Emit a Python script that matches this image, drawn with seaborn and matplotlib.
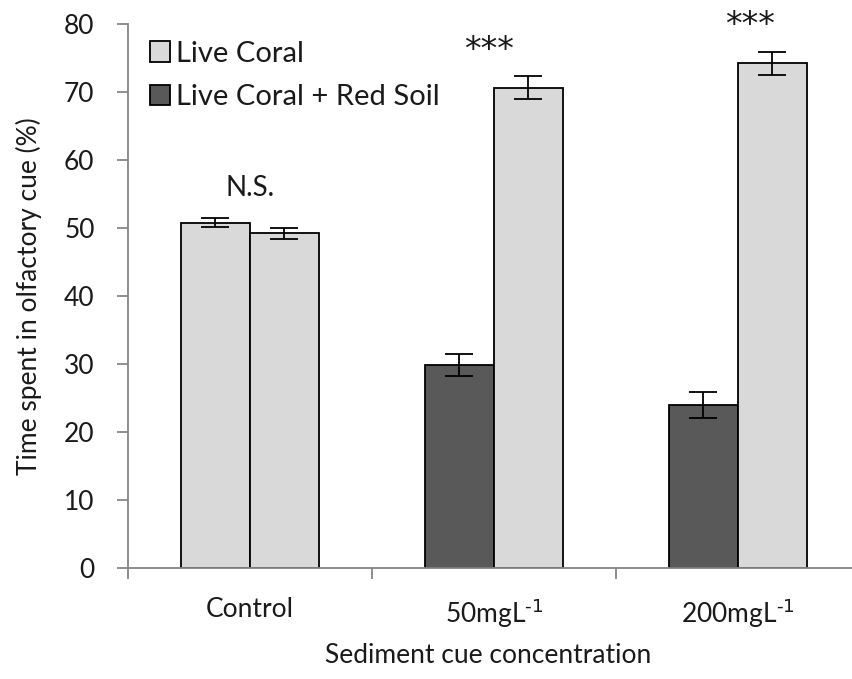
import pandas as pd
import matplotlib
matplotlib.use("Agg")
import matplotlib.pyplot as plt
import seaborn as sns
from matplotlib.patches import Patch

# ----- data -------------------------------------------------------
groups = ["Control", "50mgL$^{\\text{-1}}$", "200mgL$^{\\text{-1}}$"]
left_cue = ["Live Coral", "Live Coral + Red Soil", "Live Coral + Red Soil"]
left_val = [50.8, 29.9, 24.0]
left_err = [0.7, 1.6, 1.9]
right_cue = ["Live Coral", "Live Coral", "Live Coral"]
right_val = [49.2, 70.6, 74.2]
right_err = [0.8, 1.7, 1.7]
sig_labels = ["N.S.", "***", "***"]

cue_colors = {"Live Coral": "#d9d9d9", "Live Coral + Red Soil": "#595959"}

df = pd.DataFrame({
    "group": groups * 2,
    "side": ["left"] * 3 + ["right"] * 3,
    "cue": left_cue + right_cue,
    "value": left_val + right_val,
    "err": left_err + right_err,
})

sns.set_style("white")
plt.rcParams["font.family"] = ["Lato", "DejaVu Sans"]
plt.rcParams["mathtext.default"] = "regular"
txt = "#1a1a1a"
axis_col = "#868686"

fig = plt.figure(figsize=(8.53, 6.79), dpi=100)
ax = fig.add_axes([0.150, 0.163, 0.858, 0.802])

sns.barplot(data=df, x="group", y="value", hue="side", order=groups,
            hue_order=["left", "right"], palette=["#d9d9d9", "#d9d9d9"],
            edgecolor="black", linewidth=1.3, width=0.566, gap=0,
            errorbar=None, legend=False, ax=ax)

# recolour bars by cue and add error bars
for side, cont in zip(["left", "right"], ax.containers):
    sub = df[df["side"] == side].set_index("group").loc[groups]
    xs = []
    for bar, cue in zip(cont, sub["cue"]):
        bar.set_facecolor(cue_colors[cue])
        xs.append(bar.get_x() + bar.get_width() / 2)
    ax.errorbar(xs, sub["value"], yerr=sub["err"], fmt="none",
                ecolor="black", elinewidth=1.3, capsize=10, capthick=1.3,
                zorder=5)

# significance labels
ax.text(0.0, 55.9, sig_labels[0], ha="center", va="center",
        fontsize=20, color=txt)
ax.text(0.98, 76.0, sig_labels[1], ha="center", va="center",
        fontsize=24, color=txt, family="DejaVu Sans")
ax.text(2.05, 79.7, sig_labels[2], ha="center", va="center",
        fontsize=24, color=txt, family="DejaVu Sans", clip_on=False)

ax.set_ylim(0, 80)
ax.set_xlim(-0.5, 2.5)
ax.set_yticks(range(0, 81, 10))
ax.set_xticks([-0.5, 0.5, 1.5, 2.5], minor=True)
ax.tick_params(axis="x", which="major", length=0, pad=21,
               labelsize=19, labelcolor=txt)
ax.tick_params(axis="x", which="minor", length=8, width=1.3,
               color=axis_col, direction="out", bottom=True)
ax.tick_params(axis="y", length=8, width=1.3, color=axis_col,
               direction="out", left=True, pad=16,
               labelsize=19, labelcolor=txt)

sns.despine(ax=ax)
for s in ["left", "bottom"]:
    ax.spines[s].set_color(axis_col)
    ax.spines[s].set_linewidth(1.3)

ax.set_xlabel("Sediment cue concentration", fontsize=19, color=txt)
ax.set_ylabel("Time spent in olfactory cue (%)", fontsize=19, color=txt)
ax.xaxis.set_label_coords(0.492, -0.16)
ax.xaxis.label.set_va("center")
ax.yaxis.set_label_coords(-0.135, 0.5)
ax.yaxis.label.set_va("center")

handles = [Patch(facecolor=cue_colors[k], edgecolor="black", linewidth=1.3)
           for k in cue_colors]
ax.legend(handles=handles, labels=list(cue_colors), loc="upper left",
          bbox_to_anchor=(0.014, 0.99), frameon=False, fontsize=21,
          handlelength=0.7, handleheight=0.7, handletextpad=0.2,
          labelspacing=0.6, borderaxespad=0, labelcolor=txt)

fig.savefig("out.png", dpi=100)
